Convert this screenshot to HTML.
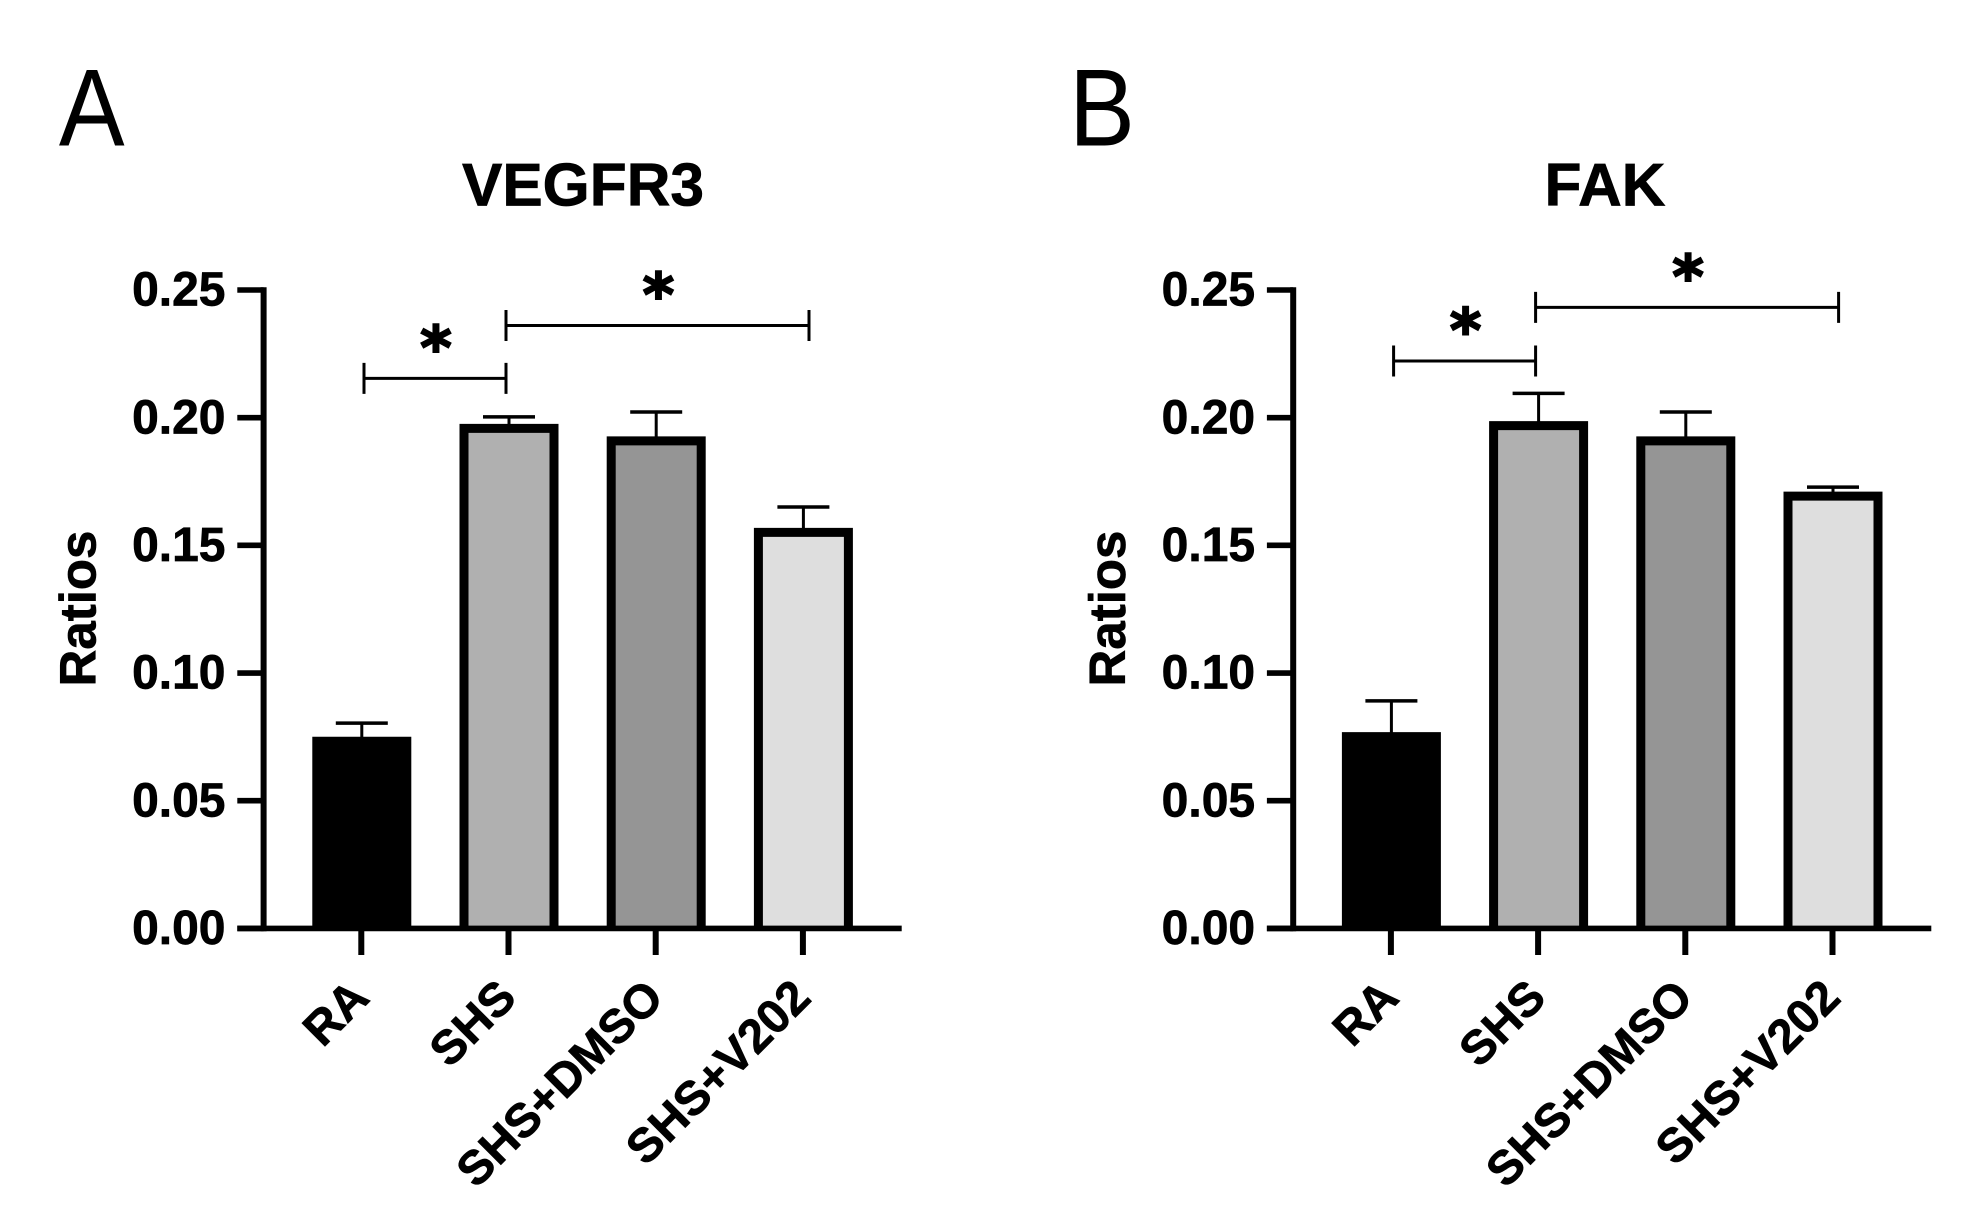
<!DOCTYPE html>
<html lang="en">
<head>
<meta charset="utf-8">
<title>VEGFR3 and FAK ratios</title>
<style>
html,body{margin:0;padding:0;background:#fff;width:1964px;height:1227px;overflow:hidden}
svg{display:block}
text{font-family:"Liberation Sans",Arial,sans-serif;fill:#000}
</style>
</head>
<body>
<svg id="figure" xmlns="http://www.w3.org/2000/svg" width="1964" height="1227" viewBox="0 0 1964 1227"></svg>
<script>
const categories = ['RA', 'SHS', 'SHS+DMSO', 'SHS+V202'];
const yTickValues = [0, 0.05, 0.10, 0.15, 0.20, 0.25];
const yTickLabels = ['0.00', '0.05', '0.10', '0.15', '0.20', '0.25'];
const barFills = ['#000000', '#b0b0b0', '#959595', '#dedede'];
const vegfr3Means = [0.0733, 0.1958, 0.1909, 0.1551];
const vegfr3Errors = [0.0071, 0.0045, 0.0113, 0.0099];
const fakMeans = [0.0751, 0.1969, 0.1909, 0.1693];
const fakErrors = [0.0140, 0.0126, 0.0113, 0.0035];
const vegfr3Brackets = [[0, 1, 0.2154], [1, 3, 0.2361]];
const fakBrackets = [[0, 1, 0.2222], [1, 3, 0.2432]];

const NS = 'http://www.w3.org/2000/svg';
const fig = document.getElementById('figure');

function make(parent, tag, attrs, txt) {
  const el = document.createElementNS(NS, tag);
  for (const k in attrs) el.setAttribute(k, attrs[k]);
  if (txt !== undefined) el.textContent = txt;
  parent.appendChild(el);
  return el;
}

function drawChart(opts) {
  const dx = opts.dx;
  const axisX = 263.6 + dx;
  const y = v => 928.4 - v * 2553.6;
  const x = i => 361.8 + dx + i * 147.2;
  const xBracket = i => 364 + dx + (i === 0 ? 0 : 142 + (i - 1) * 151.5);

  const g = make(fig, 'g', {});
  
  

  const letter = make(g, 'text', {transform: 'translate(' + opts.letterX + ',145.5) scale(0.93,1.03)', 'font-size': 106, 'text-anchor': 'middle'}, opts.letter);
  
  

  const title = make(g, 'text', {x: opts.titleX, y: 205.6, 'font-size': 60.5, 'font-weight': 700, 'text-anchor': 'middle', stroke: '#000', 'stroke-width': 0.7}, opts.title);
  
  

  const yTitle = make(g, 'text', {transform: 'translate(' + (95.5 + dx) + ',608.5) rotate(-90)', 'font-size': 51, 'font-weight': 700, 'text-anchor': 'middle', stroke: '#000', 'stroke-width': 0.7}, 'Ratios');
  
  

  categories.forEach((c, i) => {
    const half = 45;
    const top = y(opts.means[i]);
    const errTop = y(opts.means[i] + opts.errors[i]);
    const stem = make(g, 'line', {x1: x(i), x2: x(i), y1: errTop, y2: top, stroke: '#000', 'stroke-width': 3});
    
    
    const cap = make(g, 'line', {x1: x(i) - 26, x2: x(i) + 26, y1: errTop, y2: errTop, stroke: '#000', 'stroke-width': 3.5});
    
    
    const barPath = 'M' + (x(i) - half) + ' ' + y(0) + 'V' + top + 'H' + (x(i) + half) + 'V' + y(0);
    const bar = make(g, 'path', {d: barPath, fill: barFills[i], stroke: '#000', 'stroke-width': 9, 'stroke-linejoin': 'miter'});
    
    
  });

  const yAxis = make(g, 'line', {x1: axisX, x2: axisX, y1: y(0.25) - 2.8, y2: y(0) + 2.8, stroke: '#000', 'stroke-width': 6});
  
  
  const xAxis = make(g, 'line', {x1: 237.3 + dx, x2: 901.7 + dx, y1: y(0), y2: y(0), stroke: '#000', 'stroke-width': 5.6});
  
  

  yTickValues.forEach((v, i) => {
    const t = make(g, 'line', {x1: 237.3 + dx, x2: axisX, y1: y(v), y2: y(v), stroke: '#000', 'stroke-width': 5.6});
    
    
    const l = make(g, 'text', {x: 225.5 + dx, y: y(v) + 15.6, 'font-size': 48, 'font-weight': 700, 'text-anchor': 'end', stroke: '#000', 'stroke-width': 0.7}, yTickLabels[i]);
    
    
  });

  categories.forEach((c, i) => {
    const t = make(g, 'line', {x1: x(i) - 0.5, x2: x(i) - 0.5, y1: y(0), y2: 955, stroke: '#000', 'stroke-width': 6});
    
    
    const l = make(g, 'text', {transform: 'translate(' + (x(i) + 9.5) + ',1000) rotate(-45)', 'font-size': 47.5, 'font-weight': 700, 'text-anchor': 'end', stroke: '#000', 'stroke-width': 0.7}, c);
    
    
  });

  opts.brackets.forEach((b, i) => {
    const x1 = xBracket(b[0]);
    const x2 = xBracket(b[1]);
    const by = y(b[2]);
    const br = make(g, 'path', {d: 'M' + x1 + ' ' + (by - 15.5) + 'V' + (by + 15.5) + 'M' + x1 + ' ' + by + 'H' + x2 + 'M' + x2 + ' ' + (by - 15.5) + 'V' + (by + 15.5), fill: 'none', stroke: '#000', 'stroke-width': 3});
    
    
    const star = make(g, 'text', {x: (x1 + x2) / 2 + 1, y: by - 10, 'font-size': 60, 'font-weight': 700, 'text-anchor': 'middle', stroke: '#000', 'stroke-width': 2, style: 'font-family:"DejaVu Sans",sans-serif'}, '*');
    
    
  });
}

drawChart({name: 'vegfr3', dx: 0, title: 'VEGFR3', titleX: 583, letter: 'A', letterX: 91.7, means: vegfr3Means, errors: vegfr3Errors, brackets: vegfr3Brackets});
drawChart({name: 'fak', dx: 1029.6, title: 'FAK', titleX: 1605, letter: 'B', letterX: 1102, means: fakMeans, errors: fakErrors, brackets: fakBrackets});
</script>
</body>
</html>
